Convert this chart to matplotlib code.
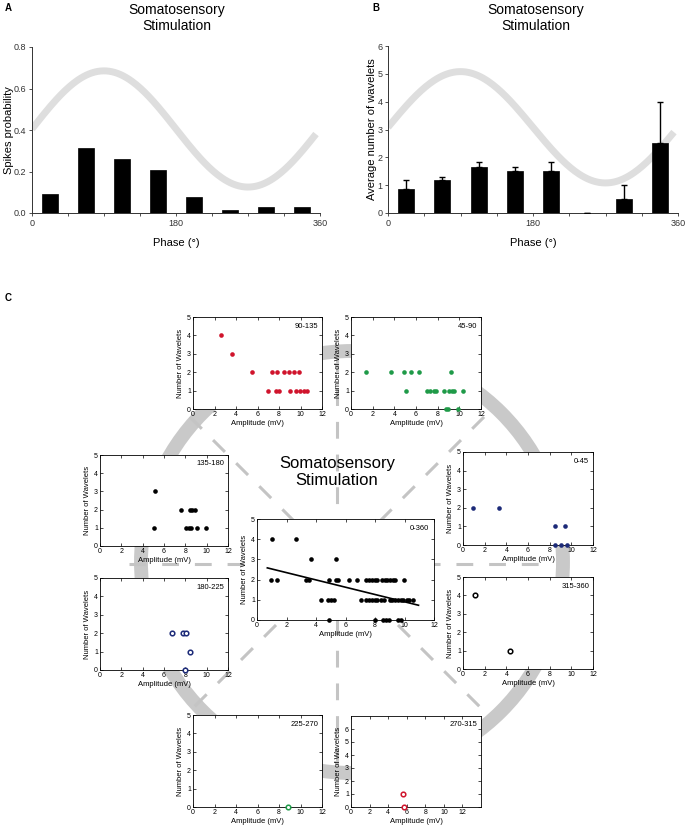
import numpy as np
import matplotlib

matplotlib.use("Agg")
import matplotlib.pyplot as plt
from matplotlib.patches import Circle

plt.rcParams["font.family"] = ["Liberation Sans", "DejaVu Sans"]

W, H = 689, 827

# ---- panels A / B ----
PHASE_BINS = [22.5, 67.5, 112.5, 157.5, 202.5, 247.5, 292.5, 337.5]
SPIKE_PROB = [0.093, 0.312, 0.26, 0.209, 0.079, 0.016, 0.027, 0.027]
WAVELET_MEAN = [0.88, 1.18, 1.65, 1.5, 1.5, 0.0, 0.5, 2.5]
WAVELET_ERR = [0.32, 0.12, 0.18, 0.15, 0.35, 0.0, 0.5, 1.5]
# reference oscillation drawn behind the bars: (offset, amplitude)
SINE_A = (0.405, 0.28)
SINE_B = (3.08, 2.0)

# ---- panel C: amplitude (mV) vs number of wavelets, per phase bin ----
AMP_90_135 = [2.6, 3.6, 5.45, 7.35, 7.85, 8.45, 8.95, 9.35, 9.9,
              6.95, 7.7, 8.0, 9.05, 9.6, 9.95, 10.3, 10.6]
N_90_135 = [4, 3, 2, 2, 2, 2, 2, 2, 2, 1, 1, 1, 1, 1, 1, 1, 1]

AMP_45_90 = [1.35, 3.65, 4.9, 5.5, 6.25, 9.25,
             5.1, 7.0, 7.3, 7.65, 7.85, 8.6, 9.05, 9.3, 9.55, 10.35,
             8.75, 8.95, 9.9]
N_45_90 = [2, 2, 2, 2, 2, 2, 1, 1, 1, 1, 1, 1, 1, 1, 1, 1, 0, 0, 0]

AMP_135_180 = [5.2, 5.1, 7.55, 8.45, 8.65, 8.95, 8.1, 8.3, 8.5, 9.1, 9.95]
N_135_180 = [3, 1, 2, 2, 2, 2, 1, 1, 1, 1, 1]

AMP_0_45 = [0.9, 3.3, 8.5, 9.4, 8.5, 9.0, 9.6]
N_0_45 = [2, 2, 1, 1, 0, 0, 0]

AMP_180_225 = [6.75, 7.75, 8.05, 8.45, 7.95]
N_180_225 = [2, 2, 2, 1, 0]

AMP_315_360 = [1.1, 4.3]
N_315_360 = [4, 1]

AMP_225_270 = [8.85]
N_225_270 = [0]

AMP_270_315 = [5.6, 5.7]
N_270_315 = [1, 0]

AMP_ALL = [1.03, 2.63,
           3.67, 5.35,
           0.98, 1.36, 3.31, 3.55, 4.9, 5.35, 5.5, 6.24, 6.8, 7.39, 7.57,
           7.77, 7.98, 8.16, 8.45, 8.66, 8.81, 9.02, 9.19, 9.34, 9.99,
           4.32, 4.82, 5.0, 5.2, 7.04, 7.39, 7.57, 7.8, 7.98, 8.16, 8.4,
           8.6, 8.99, 9.16, 9.34, 9.55, 9.75, 9.93, 10.14, 10.29, 10.58,
           4.9, 8.01, 8.51, 8.72, 8.96, 9.55, 9.75]
N_ALL = [4] * 2 + [3] * 2 + [2] * 21 + [1] * 21 + [0] * 7
FIT_AMP = [0.7, 10.95]
FIT_N = [2.58, 0.73]

RED = "#d0142c"
GREEN = "#1f9a48"
NAVY = "#1c2a78"
RING = "#c9c9c9"
SINE = "#dedede"


def rect(x0, y0, x1, y1):
    # pixel box (top-left origin) -> figure fraction
    return [x0 / W, 1 - y1 / H, (x1 - x0) / W, (y1 - y0) / H]


fig = plt.figure(figsize=(W / 100, H / 100), dpi=100)

# background layer in pixel coordinates: ring + dashed spokes
bg = fig.add_axes([0, 0, 1, 1], zorder=0)
bg.set_xlim(0, W)
bg.set_ylim(H, 0)
bg.axis("off")
bg.add_patch(Circle((352, 562), 211, fill=False, lw=10, ec=RING))
cx, cy, r = 337, 564, 208
for ang in [0, 45, 90, 135]:
    dx, dy = np.cos(np.radians(ang)) * r, np.sin(np.radians(ang)) * r
    bg.plot([cx - dx, cx + dx], [cy - dy, cy + dy], color="#c4c4c4",
            lw=2.2, dashes=(5.5, 5.2), solid_capstyle="butt")

# ---- A / B ----
def phase_panel(box, vals, ylim, yticks, ylabel, label_x, sine, err=None,
                yfmt=None):
    ax = fig.add_axes(rect(*box), zorder=2)
    ph = np.linspace(0, 355, 200)
    ax.plot(ph, sine[0] + sine[1] * np.sin(np.radians(ph)), color=SINE,
            lw=5, solid_capstyle="butt", zorder=1)
    ax.bar(PHASE_BINS, vals, width=20, color="black", edgecolor="black",
           lw=0.5, zorder=2)
    if err is not None:
        ax.errorbar(PHASE_BINS, vals, yerr=[np.zeros(len(err)), err],
                    fmt="none", ecolor="black", elinewidth=1, capsize=2,
                    capthick=1, zorder=3)
    ax.set_xlim(0, 360)
    ax.set_ylim(*ylim)
    ax.set_xticks(np.arange(0, 361, 45))
    ax.set_xticklabels(["0", "", "", "", "180", "", "", "", "360"])
    ax.set_yticks(yticks)
    if yfmt:
        ax.set_yticklabels([yfmt.format(v) for v in yticks])
    for s in ["top", "right"]:
        ax.spines[s].set_visible(False)
    for s in ["left", "bottom"]:
        ax.spines[s].set_linewidth(0.7)
        ax.spines[s].set_color("#333333")
    ax.tick_params(labelsize=6.5, length=2, width=0.6, pad=2, colors="#333333")
    ax.set_xlabel("Phase (°)", fontsize=8)
    ax.set_ylabel(ylabel, fontsize=8)
    ax.xaxis.set_label_coords(0.5, -0.15)
    ax.yaxis.set_label_coords(label_x, 0.5)
    return ax


phase_panel((32, 47, 320, 213), SPIKE_PROB, (0, 0.8), [0, 0.2, 0.4, 0.6, 0.8],
            "Spikes probability", -0.064, SINE_A, yfmt="{:.1f}")
phase_panel((388, 46, 678, 213), WAVELET_MEAN, (0, 6), range(7),
            "Average number of wavelets", -0.038, SINE_B, err=WAVELET_ERR)

fig.text(177 / W, 1 - 18 / H, "Somatosensory\nStimulation", ha="center",
         va="center", fontsize=10, linespacing=1.2)
fig.text(536 / W, 1 - 18 / H, "Somatosensory\nStimulation", ha="center",
         va="center", fontsize=10, linespacing=1.2)
fig.text(5 / W, 1 - 8 / H, "A", fontsize=7, fontweight="bold", va="center")
fig.text(372 / W, 1 - 8 / H, "B", fontsize=7, fontweight="bold", va="center")
fig.text(5 / W, 1 - 298 / H, "C", fontsize=7, fontweight="bold", va="center")

fig.text(337 / W, 1 - 472 / H, "Somatosensory\nStimulation", ha="center",
         va="center", fontsize=12, linespacing=1.2)

# ---- C ----
NARROW = ["Liberation Sans Narrow", "Liberation Sans", "DejaVu Sans"]


def scatter_panel(box, amp, n, color, label, hollow=False, xmax=12, ymax=5,
                  yticks=range(6), fit=None):
    ax = fig.add_axes(rect(*box), zorder=2)
    ax.set_facecolor("white")
    if hollow:
        ax.scatter(amp, n, s=11, facecolors="white", edgecolors=color,
                   linewidths=1.1, clip_on=False, zorder=3)
    else:
        ax.scatter(amp, n, s=11, color=color, lw=0, clip_on=False, zorder=3)
    if fit is not None:
        ax.plot(fit[0], fit[1], color="black", lw=1.2, zorder=4)
    ax.set_xlim(0, xmax)
    ax.set_ylim(0, ymax)
    ax.set_xticks(range(0, 13, 2))
    ax.set_yticks(yticks)
    ax.tick_params(direction="in", length=2, width=0.5, labelsize=5, pad=1.5,
                   top=True, right=True)
    for lab in ax.get_xticklabels() + ax.get_yticklabels():
        lab.set_family(NARROW)
    for s in ax.spines.values():
        s.set_linewidth(0.6)
    ax.set_xlabel("Amplitude (mV)", fontsize=5.5, labelpad=1.5, family=NARROW)
    ax.set_ylabel("Number of Wavelets", fontsize=5.5, labelpad=2, family=NARROW)
    ax.text(0.97, 0.94, label, transform=ax.transAxes, ha="right", va="top",
            fontsize=5.5, family=NARROW)
    return ax


scatter_panel((193, 317, 322, 409), AMP_90_135, N_90_135, RED, "90-135")
scatter_panel((351, 317, 481, 409), AMP_45_90, N_45_90, GREEN, "45-90")
scatter_panel((100, 455, 228, 546), AMP_135_180, N_135_180, "black", "135-180")
scatter_panel((463, 452, 593, 545), AMP_0_45, N_0_45, NAVY, "0-45")
scatter_panel((257, 519, 434, 620), AMP_ALL, N_ALL, "black", "0-360",
              fit=(FIT_AMP, FIT_N))
scatter_panel((100, 578, 228, 670), AMP_180_225, N_180_225, NAVY, "180-225",
              hollow=True)
scatter_panel((463, 577, 593, 669), AMP_315_360, N_315_360, "black", "315-360",
              hollow=True)
scatter_panel((193, 715, 322, 807), AMP_225_270, N_225_270, GREEN, "225-270",
              hollow=True)
scatter_panel((351, 716, 481, 807), AMP_270_315, N_270_315, RED, "270-315",
              hollow=True, xmax=14, ymax=7, yticks=range(7))

fig.savefig("out.png", dpi=100)
